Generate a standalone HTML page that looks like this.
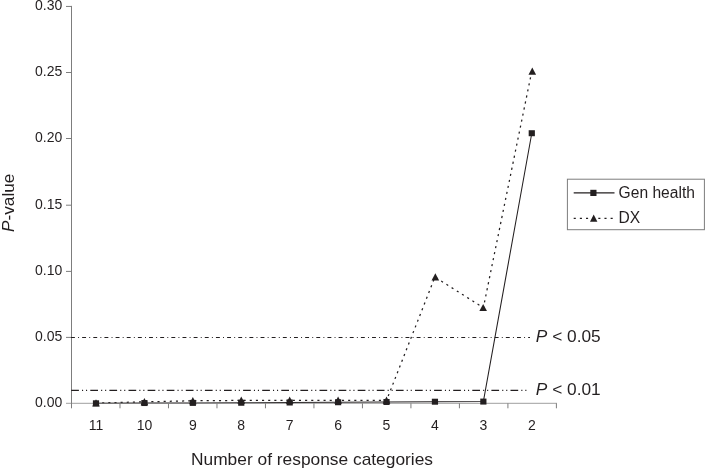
<!DOCTYPE html>
<html><head><meta charset="utf-8"><title>P-value chart</title>
<style>html,body{margin:0;padding:0;background:#fff;overflow:hidden}svg{display:block}text{font-family:"Liberation Sans",Arial,sans-serif;fill:#231f20}</style></head><body>
<svg width="705" height="469" viewBox="0 0 705 469">
<rect width="705" height="469" fill="#fff"/>
<polyline points="96.00,403.04 144.42,401.85 192.84,400.79 241.26,400.39 289.68,400.39 338.10,400.39 386.52,400.39 434.94,277.05 483.36,307.72 531.78,71.35" fill="none" stroke="#231f20" stroke-width="1.25" stroke-dasharray="2.1 4.05"/>
<polyline points="96.00,403.30 144.42,403.04 192.84,402.90 241.26,402.77 289.68,402.51 338.10,402.24 386.52,401.98 434.94,401.71 483.36,401.58 531.78,133.22" fill="none" stroke="#231f20" stroke-width="1.05"/>
<g stroke="#7d7d7d" stroke-width="1" fill="none">
<line x1="71.50" y1="5.90" x2="71.50" y2="408.30"/>
<line x1="66.00" y1="403.30" x2="556.90" y2="403.30" stroke-opacity="0.75"/>
<line x1="66.00" y1="337.40" x2="71.50" y2="337.40"/>
<line x1="66.00" y1="271.40" x2="71.50" y2="271.40"/>
<line x1="66.00" y1="205.20" x2="71.50" y2="205.20"/>
<line x1="66.00" y1="138.50" x2="71.50" y2="138.50"/>
<line x1="66.00" y1="72.50" x2="71.50" y2="72.50"/>
<line x1="66.00" y1="6.45" x2="71.50" y2="6.45"/>
<line x1="119.99" y1="403.30" x2="119.99" y2="408.30"/>
<line x1="168.48" y1="403.30" x2="168.48" y2="408.30"/>
<line x1="216.97" y1="403.30" x2="216.97" y2="408.30"/>
<line x1="265.46" y1="403.30" x2="265.46" y2="408.30"/>
<line x1="313.95" y1="403.30" x2="313.95" y2="408.30"/>
<line x1="362.44" y1="403.30" x2="362.44" y2="408.30"/>
<line x1="410.93" y1="403.30" x2="410.93" y2="408.30"/>
<line x1="459.42" y1="403.30" x2="459.42" y2="408.30"/>
<line x1="507.91" y1="403.30" x2="507.91" y2="408.30"/>
<line x1="556.40" y1="403.30" x2="556.40" y2="408.30"/>
</g>
<text x="62.3" y="406.65" font-size="14" text-anchor="end">0.00</text>
<text x="62.3" y="340.80" font-size="14" text-anchor="end">0.05</text>
<text x="62.3" y="274.80" font-size="14" text-anchor="end">0.10</text>
<text x="62.3" y="208.60" font-size="14" text-anchor="end">0.15</text>
<text x="62.3" y="141.90" font-size="14" text-anchor="end">0.20</text>
<text x="62.3" y="75.90" font-size="14" text-anchor="end">0.25</text>
<text x="62.3" y="9.85" font-size="14" text-anchor="end">0.30</text>
<text x="96.00" y="429.55" font-size="14" text-anchor="middle">11</text>
<text x="144.42" y="429.55" font-size="14" text-anchor="middle">10</text>
<text x="192.84" y="429.55" font-size="14" text-anchor="middle">9</text>
<text x="241.26" y="429.55" font-size="14" text-anchor="middle">8</text>
<text x="289.68" y="429.55" font-size="14" text-anchor="middle">7</text>
<text x="338.10" y="429.55" font-size="14" text-anchor="middle">6</text>
<text x="386.52" y="429.55" font-size="14" text-anchor="middle">5</text>
<text x="434.94" y="429.55" font-size="14" text-anchor="middle">4</text>
<text x="483.36" y="429.55" font-size="14" text-anchor="middle">3</text>
<text x="531.78" y="429.55" font-size="14" text-anchor="middle">2</text>
<text x="312.0" y="464.6" font-size="17.35" text-anchor="middle">Number of response categories</text>
<text transform="translate(13.7,202.8) rotate(-90)" font-size="17.2" text-anchor="middle"><tspan font-style="italic">P</tspan>-value</text>
<line x1="71.00" y1="337.50" x2="530" y2="337.50" stroke="#231f20" stroke-width="1" stroke-dasharray="3.9 3.2 0.95 3.1"/>
<line x1="71.20" y1="390.40" x2="526.5" y2="390.40" stroke="#231f20" stroke-width="1.25" stroke-dasharray="7.7 3.1 1.1 2.9 1.1 3.2"/>
<text x="535.8" y="341.7" font-size="17.3"><tspan font-style="italic">P</tspan> &lt; 0.05</text>
<text x="535.8" y="395.1" font-size="17.3"><tspan font-style="italic">P</tspan> &lt; 0.01</text>
<path d="M96.00 399.24L99.80 406.44L92.20 406.44Z" fill="#231f20"/>
<path d="M144.42 398.05L148.22 405.25L140.62 405.25Z" fill="#231f20"/>
<path d="M192.84 396.99L196.64 404.19L189.04 404.19Z" fill="#231f20"/>
<path d="M241.26 396.59L245.06 403.79L237.46 403.79Z" fill="#231f20"/>
<path d="M289.68 396.59L293.48 403.79L285.88 403.79Z" fill="#231f20"/>
<path d="M338.10 396.59L341.90 403.79L334.30 403.79Z" fill="#231f20"/>
<path d="M386.52 396.59L390.32 403.79L382.72 403.79Z" fill="#231f20"/>
<path d="M435.34 273.25L439.14 280.45L431.54 280.45Z" fill="#231f20"/>
<path d="M483.16 303.92L486.96 311.12L479.36 311.12Z" fill="#231f20"/>
<path d="M532.28 67.55L536.08 74.75L528.48 74.75Z" fill="#231f20"/>
<rect x="92.90" y="400.30" width="6.2" height="6" fill="#231f20"/>
<rect x="141.32" y="400.04" width="6.2" height="6" fill="#231f20"/>
<rect x="189.74" y="399.90" width="6.2" height="6" fill="#231f20"/>
<rect x="238.16" y="399.77" width="6.2" height="6" fill="#231f20"/>
<rect x="286.58" y="399.51" width="6.2" height="6" fill="#231f20"/>
<rect x="335.00" y="399.24" width="6.2" height="6" fill="#231f20"/>
<rect x="383.42" y="398.98" width="6.2" height="6" fill="#231f20"/>
<rect x="431.84" y="398.71" width="6.2" height="6" fill="#231f20"/>
<rect x="480.26" y="398.58" width="6.2" height="6" fill="#231f20"/>
<rect x="528.68" y="130.22" width="6.2" height="6" fill="#231f20"/>
<rect x="567.4" y="179.2" width="137" height="50.5" fill="#fff" stroke="#7d7d7d" stroke-width="1"/>
<line x1="573.7" y1="192.9" x2="614.5" y2="192.9" stroke="#231f20" stroke-width="1.2"/>
<rect x="590.3" y="189.8" width="6.2" height="6.2" fill="#231f20"/>
<text x="618.6" y="198" font-size="15.6">Gen health</text>
<line x1="573.7" y1="218.3" x2="613" y2="218.3" stroke="#231f20" stroke-width="1.25" stroke-dasharray="2.1 4.05"/>
<path d="M593.7 214.4L597.4 221.8L590 221.8Z" fill="#231f20"/>
<text x="618.6" y="223" font-size="15.6">DX</text>
</svg></body></html>
